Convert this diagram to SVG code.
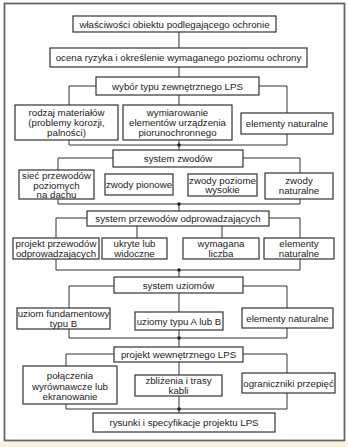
<svg xmlns="http://www.w3.org/2000/svg" width="348" height="447" viewBox="0 0 348 447">
<style>
.b{fill:#fff;stroke:#333;stroke-width:1.2}
.t{font-family:"Liberation Sans",Arial,sans-serif;font-size:9.7px;fill:#222;text-anchor:middle}
.c{fill:none;stroke:#333;stroke-width:1}
.d{fill:#222}
</style>
<rect x="0" y="0" width="348" height="447" fill="#fff"/>
<rect x="0" y="442" width="348" height="5" fill="#fcefe3"/>
<rect x="4.5" y="3.5" width="340" height="437" fill="#fff" stroke="#666" stroke-width="1.8"/>
<g id="connectors">
<path class="c" d="M179 32V48M179 67V77M179 95V105M179 140V150M69 105V86H96M259 86H287V113M69 140V145H287V134"/>
<path class="c" d="M58 170V158H113M243 158H300V173M58 199V204H300V199M179 204V211"/>
<path class="c" d="M56 238V218H87M269 218H300V238M137 226V238M222 226V238M56 259V270H300V259M179 270V277"/>
<path class="c" d="M69 308V286H114M243 286H287V308M179 293V312M69 329V338H287V328M179 330V347"/>
<path class="c" d="M66 366V354H114M243 354H287V373M179 362V375M66 404V409H287V393M179 396V413"/>
<circle class="d" cx="179" cy="145" r="1.8"/>
<circle class="d" cx="179" cy="204" r="1.8"/>
<circle class="d" cx="179" cy="270" r="1.8"/>
<circle class="d" cx="179" cy="338" r="1.8"/>
<circle class="d" cx="179" cy="409" r="1.8"/>
</g>
<g id="n1"><rect class="b" x="73" y="16" width="203" height="16"/><text class="t" x="174.5" y="27.5">właściwości obiektu podlegającego ochronie</text></g>
<g id="n2"><rect class="b" x="50" y="48" width="257" height="19"/><text class="t" x="178.5" y="61">ocena ryzyka i określenie wymaganego poziomu ochrony</text></g>
<g id="n3"><rect class="b" x="96" y="77" width="163" height="18"/><text class="t" x="177.5" y="89.5">wybór typu zewnętrznego LPS</text></g>
<g id="n4"><rect class="b" x="15" y="105" width="103" height="35"/><text class="t" x="66.5" y="115.5">rodzaj materiałów</text><text class="t" x="66.5" y="125.5">(problemy korozji,</text><text class="t" x="66.5" y="135.5">palności)</text></g>
<g id="n5"><rect class="b" x="123" y="105" width="109" height="35"/><text class="t" x="177.5" y="115.5">wymiarowanie</text><text class="t" x="177.5" y="125.5">elementów urządzenia</text><text class="t" x="177.5" y="135.5">piorunochronnego</text></g>
<g id="n6"><rect class="b" x="241" y="113" width="92" height="21"/><text class="t" x="287" y="127">elementy naturalne</text></g>
<g id="n7"><rect class="b" x="113" y="150" width="130" height="17"/><text class="t" x="178" y="162">system zwodów</text></g>
<g id="n8"><rect class="b" x="19" y="170" width="75" height="29"/><text class="t" x="56.5" y="179">sieć przewodów</text><text class="t" x="56.5" y="188.5">poziomych</text><text class="t" x="56.5" y="198">na dachu</text></g>
<g id="n9"><rect class="b" x="105" y="174" width="68" height="21"/><text class="t" x="139" y="188">zwody pionowe</text></g>
<g id="n10"><rect class="b" x="188" y="174" width="69" height="22"/><text class="t" x="222.5" y="183.5">zwody poziome</text><text class="t" x="222.5" y="193">wysokie</text></g>
<g id="n11"><rect class="b" x="265" y="173" width="68" height="26"/><text class="t" x="299" y="183.5">zwody</text><text class="t" x="299" y="194">naturalne</text></g>
<g id="n12"><rect class="b" x="87" y="211" width="182" height="15"/><text class="t" x="178" y="222">system przewodów odprowadzających</text></g>
<g id="n13"><rect class="b" x="13" y="238" width="86" height="21"/><text class="t" x="56" y="246.5">projekt przewodów</text><text class="t" x="56" y="256.5">odprowadzających</text></g>
<g id="n14"><rect class="b" x="102" y="238" width="65" height="21"/><text class="t" x="134.5" y="246.5">ukryte lub</text><text class="t" x="134.5" y="256.5">widoczne</text></g>
<g id="n15"><rect class="b" x="183" y="238" width="76" height="21"/><text class="t" x="221" y="246.5">wymagana</text><text class="t" x="221" y="256.5">liczba</text></g>
<g id="n16"><rect class="b" x="264" y="238" width="70" height="21"/><text class="t" x="299" y="246.5">elementy</text><text class="t" x="299" y="256.5">naturalne</text></g>
<g id="n17"><rect class="b" x="114" y="277" width="129" height="16"/><text class="t" x="178.5" y="288.5">system uziomów</text></g>
<g id="n18"><rect class="b" x="17" y="308" width="93" height="21"/><text class="t" x="63.5" y="316.5">uziom fundamentowy</text><text class="t" x="63.5" y="326.5">typu B</text></g>
<g id="n19"><rect class="b" x="135" y="312" width="88" height="18"/><text class="t" x="179" y="324.5">uziomy typu A lub B</text></g>
<g id="n20"><rect class="b" x="242" y="308" width="91" height="20"/><text class="t" x="287.5" y="321.5">elementy naturalne</text></g>
<g id="n21"><rect class="b" x="114" y="347" width="129" height="15"/><text class="t" x="178.5" y="358">projekt wewnętrznego LPS</text></g>
<g id="n22"><rect class="b" x="23" y="366" width="94" height="38"/><text class="t" x="70" y="379">połączenia</text><text class="t" x="70" y="389.5">wyrównawcze lub</text><text class="t" x="70" y="400">ekranowanie</text></g>
<g id="n23"><rect class="b" x="135" y="375" width="87" height="21"/><text class="t" x="178.5" y="383.5">zbliżenia i trasy</text><text class="t" x="178.5" y="393.5">kabli</text></g>
<g id="n24"><rect class="b" x="242" y="373" width="93" height="20"/><text class="t" x="288.5" y="386.5">ograniczniki przepięć</text></g>
<g id="n25"><rect class="b" x="93" y="413" width="182" height="19"/><text class="t" x="184" y="426">rysunki i specyfikacje projektu LPS</text></g>
</svg>
